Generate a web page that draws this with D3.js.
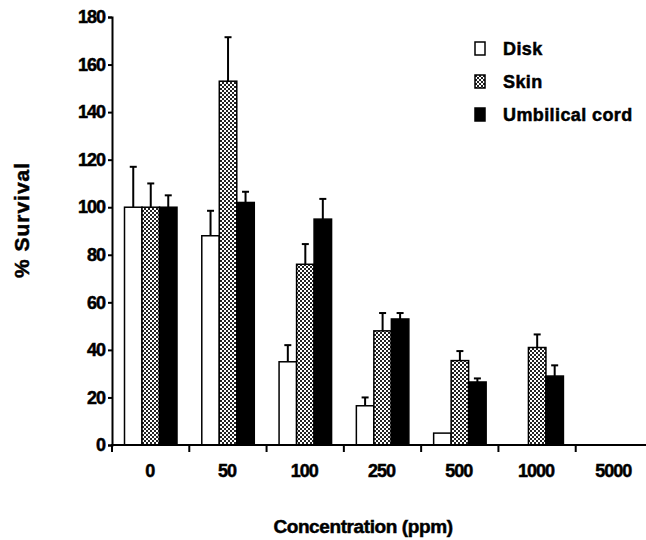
<!DOCTYPE html>
<html>
<head>
<meta charset="utf-8">
<script src="https://cdnjs.cloudflare.com/ajax/libs/d3/7.8.5/d3.min.js"></script>
<style>
  body { margin: 0; background: #fff; }
  text { font-family: "Liberation Sans", Arial, sans-serif; font-weight: bold; fill: #000; stroke: #000; stroke-width: 0.5px; }
</style>
</head>
<body>
<svg id="chart" width="646" height="540"></svg>
<script>
// data
var concentrations = ["0", "50", "100", "250", "500", "1000", "5000"];
var seriesNames = ["Disk", "Skin", "Umbilical cord"];
var disk     = [100, 88, 35, 16.5, 5, 0, 0];
var diskErr  = [17, 10.5, 7, 3.5, 0, 0, 0];
var skin     = [100, 153, 76, 48, 35.5, 41, 0];
var skinErr  = [10, 18.5, 8.5, 7.5, 4, 5.5, 0];
var cord     = [100, 102, 95, 53, 26.5, 29, 0];
var cordErr  = [5, 4.5, 8.5, 2.5, 1.5, 4.5, 0];
var yTicks = [0, 20, 40, 60, 80, 100, 120, 140, 160, 180];

var values = [disk, skin, cord];
var errors = [diskErr, skinErr, cordErr];

var svg = d3.select("#chart");

// checker pattern for the Skin bars
var defs = svg.append("defs");
var pat = defs.append("pattern")
    .attr("id", "checker")
    .attr("width", 4).attr("height", 4)
    .attr("patternUnits", "userSpaceOnUse");
pat.append("rect").attr("width", 4).attr("height", 4).attr("fill", "#fff");
pat.append("rect").attr("width", 2).attr("height", 2).attr("fill", "#222");
pat.append("rect").attr("x", 2).attr("y", 2).attr("width", 2).attr("height", 2).attr("fill", "#222");

var fills = ["#fff", "url(#checker)", "#000"];

var x0 = d3.scaleBand()
    .domain(concentrations)
    .range([112, 653]);

var x1 = d3.scaleBand()
    .domain(d3.range(3))
    .range([12.5, 65]);

var y = d3.scaleLinear()
    .domain([0, 180])
    .range([445, 17]);

// flatten to one record per bar
var bars = [];
concentrations.forEach(function(c, i) {
  values.forEach(function(s, j) {
    bars.push({c: c, s: j, v: s[i], e: errors[j][i]});
  });
});

//error bars drawn first so the bar outline sits on top
var err = svg.append("g").selectAll(".err")
    .data(bars.filter(function(d) { return d.e > 0; }))
    .enter().append("g")
    .attr("class", "err")
    .attr("stroke", "#000")
    .attr("stroke-width", 2);

err.append("line")
    .attr("x1", function(d) { return x0(d.c) + x1(d.s) + x1.bandwidth() / 2; })
    .attr("x2", function(d) { return x0(d.c) + x1(d.s) + x1.bandwidth() / 2; })
    .attr("y1", function(d) { return y(d.v); })
    .attr("y2", function(d) { return y(d.v + d.e); });

err.append("line")
    .attr("x1", function(d) { return x0(d.c) + x1(d.s) + x1.bandwidth() / 2 - 3.5; })
    .attr("x2", function(d) { return x0(d.c) + x1(d.s) + x1.bandwidth() / 2 + 3.5; })
    .attr("y1", function(d) { return y(d.v + d.e); })
    .attr("y2", function(d) { return y(d.v + d.e); });

svg.append("g").selectAll(".bar")
    .data(bars.filter(function(d) { return d.v > 0; }))
    .enter().append("rect")
    .attr("class", "bar")
    .attr("x", function(d) { return x0(d.c) + x1(d.s); })
    .attr("width", x1.bandwidth())
    .attr("y", function(d) { return y(d.v); })
    .attr("height", function(d) { return y(0) - y(d.v); })
    .attr("fill", function(d) { return fills[d.s]; })
    .attr("stroke", "#000")
    .attr("stroke-width", 1.5);

// y axis
var yAxis = d3.axisLeft(y).tickValues(yTicks).tickSize(4).tickPadding(3);
var gy = svg.append("g")
    .attr("transform", "translate(112,0)")
    .call(yAxis);
gy.select(".domain").attr("stroke-width", 2);
gy.selectAll(".tick line").attr("stroke-width", 2);
gy.selectAll("text")
    .style("font-size", "18px")
    .style("letter-spacing", "-1px")
    .attr("font-family", null);

// x axis: line, boundary ticks, labels in the middle of each band
var gx = svg.append("g");
gx.append("line")
    .attr("x1", 111).attr("x2", 653)
    .attr("y1", y(0)).attr("y2", y(0))
    .attr("stroke", "#000").attr("stroke-width", 2);
gx.selectAll(".xtick")
    .data(concentrations.concat([null]))
    .enter().append("line")
    .attr("class", "xtick")
    .attr("x1", function(d, i) { return x0.range()[0] + i * x0.bandwidth(); })
    .attr("x2", function(d, i) { return x0.range()[0] + i * x0.bandwidth(); })
    .attr("y1", y(0))
    .attr("y2", y(0) + 7)
    .attr("stroke", "#000").attr("stroke-width", 2);
gx.selectAll(".xlab")
    .data(concentrations)
    .enter().append("text")
    .attr("class", "xlab")
    .attr("x", function(d) { return x0(d) + x0.bandwidth() / 2 - 1; })
    .attr("y", 477)
    .attr("text-anchor", "middle")
    .style("font-size", "18px")
    .style("letter-spacing", "-1px")
    .text(function(d) { return d; });

// axis titles
svg.append("text")
    .attr("x", 363).attr("y", 533)
    .attr("text-anchor", "middle")
    .style("font-size", "19px")
    .style("letter-spacing", "-0.4px")
    .text("Concentration (ppm)");

svg.append("text")
    .attr("transform", "translate(29,220) rotate(-90)")
    .attr("text-anchor", "middle")
    .style("font-size", "21px")
    .style("letter-spacing", "1px")
    .text("% Survival");

// legend
var legend = svg.append("g").selectAll(".legend")
    .data(seriesNames)
    .enter().append("g")
    .attr("class", "legend")
    .attr("transform", function(d, i) { return "translate(475," + (42 + i * 33) + ")"; });

legend.append("rect")
    .attr("width", 10).attr("height", 13)
    .attr("fill", function(d, i) { return fills[i]; })
    .attr("stroke", "#000").attr("stroke-width", 1.5);

legend.append("text")
    .attr("x", 28).attr("y", 13)
    .style("font-size", "18px")
    .style("letter-spacing", "0.4px")
    .text(function(d) { return d; });
</script>
</body>
</html>
